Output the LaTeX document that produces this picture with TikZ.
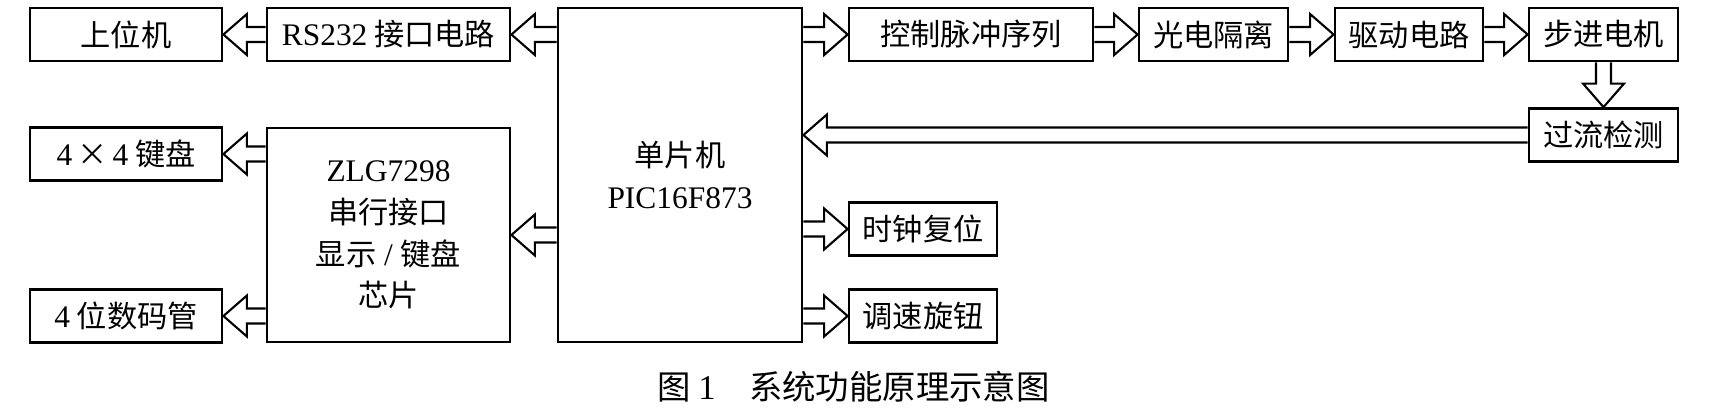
\documentclass[tikz,border=0pt]{standalone}
\usepackage{fontspec}
\setmainfont{Liberation Serif}[Scale=1.04]
\newfontfamily\cjk{Noto Sans CJK SC}
\usetikzlibrary{calc,positioning}

\begin{document}
\begin{tikzpicture}
[font=\cjk\fontsize{8.6}{11.9}\selectfont, draw=black, line width=0.8pt,
blkbox/.style={rectangle, draw, inner sep=0pt, minimum height=5.3mm, align=center},
blk/.style={line width=0.6pt, to path={let \p1=(\tikztostart), \p2=(\tikztotarget),
  \n1={atan2(\y2-\y1,\x2-\x1)}, \n2={veclen(\x2-\x1,\y2-\y1)} in
  [shift={(\p2)}, rotate=\n1] ({-\n2},0.075cm) -- (-0.235cm,0.075cm) -- (-0.235cm,0.205cm)
  -- (0cm,0cm) -- (-0.235cm,-0.205cm) -- (-0.235cm,-0.075cm) -- ({-\n2},-0.075cm)}}]

\useasboundingbox (0,0) rectangle (17.10,-4.09);

% left column
\node[blkbox, minimum width=19.2mm] (pc) at (1.26,-0.345) {上位机};
\node[blkbox, minimum width=19.2mm] (kb) at (1.26,-1.54) {{\rmfamily 4}\,×\,{\rmfamily 4} 键盘};
\node[blkbox, minimum width=19.2mm] (led) at (1.26,-3.16) {{\rmfamily 4} 位数码管};

\node[blkbox, minimum width=24.3mm] (rs) at (3.885,-0.345) {{\rmfamily RS232} 接口电路};
\node[blkbox, minimum width=24.3mm, minimum height=21.4mm] (zlg) at (3.885,-2.35)
  {{\rmfamily ZLG7298}\\串行接口\\显示{\rmfamily\ /\ }键盘\\芯片};

\node[blkbox, minimum width=24.4mm, minimum height=33.4mm] (mcu) at (6.80,-1.75)
  {单片机\\{\rmfamily PIC16F873}};

% right side
\node[blkbox, minimum width=24.4mm] (ctrl) at (9.71,-0.345) {控制脉冲序列};
\node[blkbox, minimum width=14.9mm] (opto) at (12.135,-0.345) {光电隔离};
\node[blkbox, minimum width=14.8mm] (drv) at (14.09,-0.345) {驱动电路};
\node[blkbox, minimum width=14.9mm] (motor) at (16.035,-0.345) {步进电机};
\node[blkbox, minimum width=14.9mm] (oc) at (16.035,-1.35) {过流检测};
\node[blkbox, minimum width=14.8mm] (clk) at (9.23,-2.29) {时钟复位};
\node[blkbox, minimum width=14.8mm] (knob) at (9.23,-3.16) {调速旋钮};

\draw[blk] (rs.west) to (pc.east);
\draw[blk] (mcu.west |- rs.east) to (rs.east);
\draw[blk] (mcu.west |- zlg.east) to (zlg.east);
\foreach \t in {kb,led} {
  \draw[blk] (zlg.west |- \t.east) to (\t.east);
}
\foreach \t in {ctrl,clk,knob} {
  \draw[blk] (mcu.east |- \t.west) to (\t.west);
}
\foreach \s/\t in {ctrl/opto, opto/drv, drv/motor} {
  \draw[blk] (\s.east) to (\t.west);
}
\draw[blk] (motor.south) to (oc.north);
\draw[blk] (oc.west) to (mcu.east |- oc.west);

\node (cap) at (8.535,-3.87) {\fontsize{9.5}{11}\selectfont 图~{\rmfamily 1}\quad 系统功能原理示意图};
\end{tikzpicture}
\end{document}
